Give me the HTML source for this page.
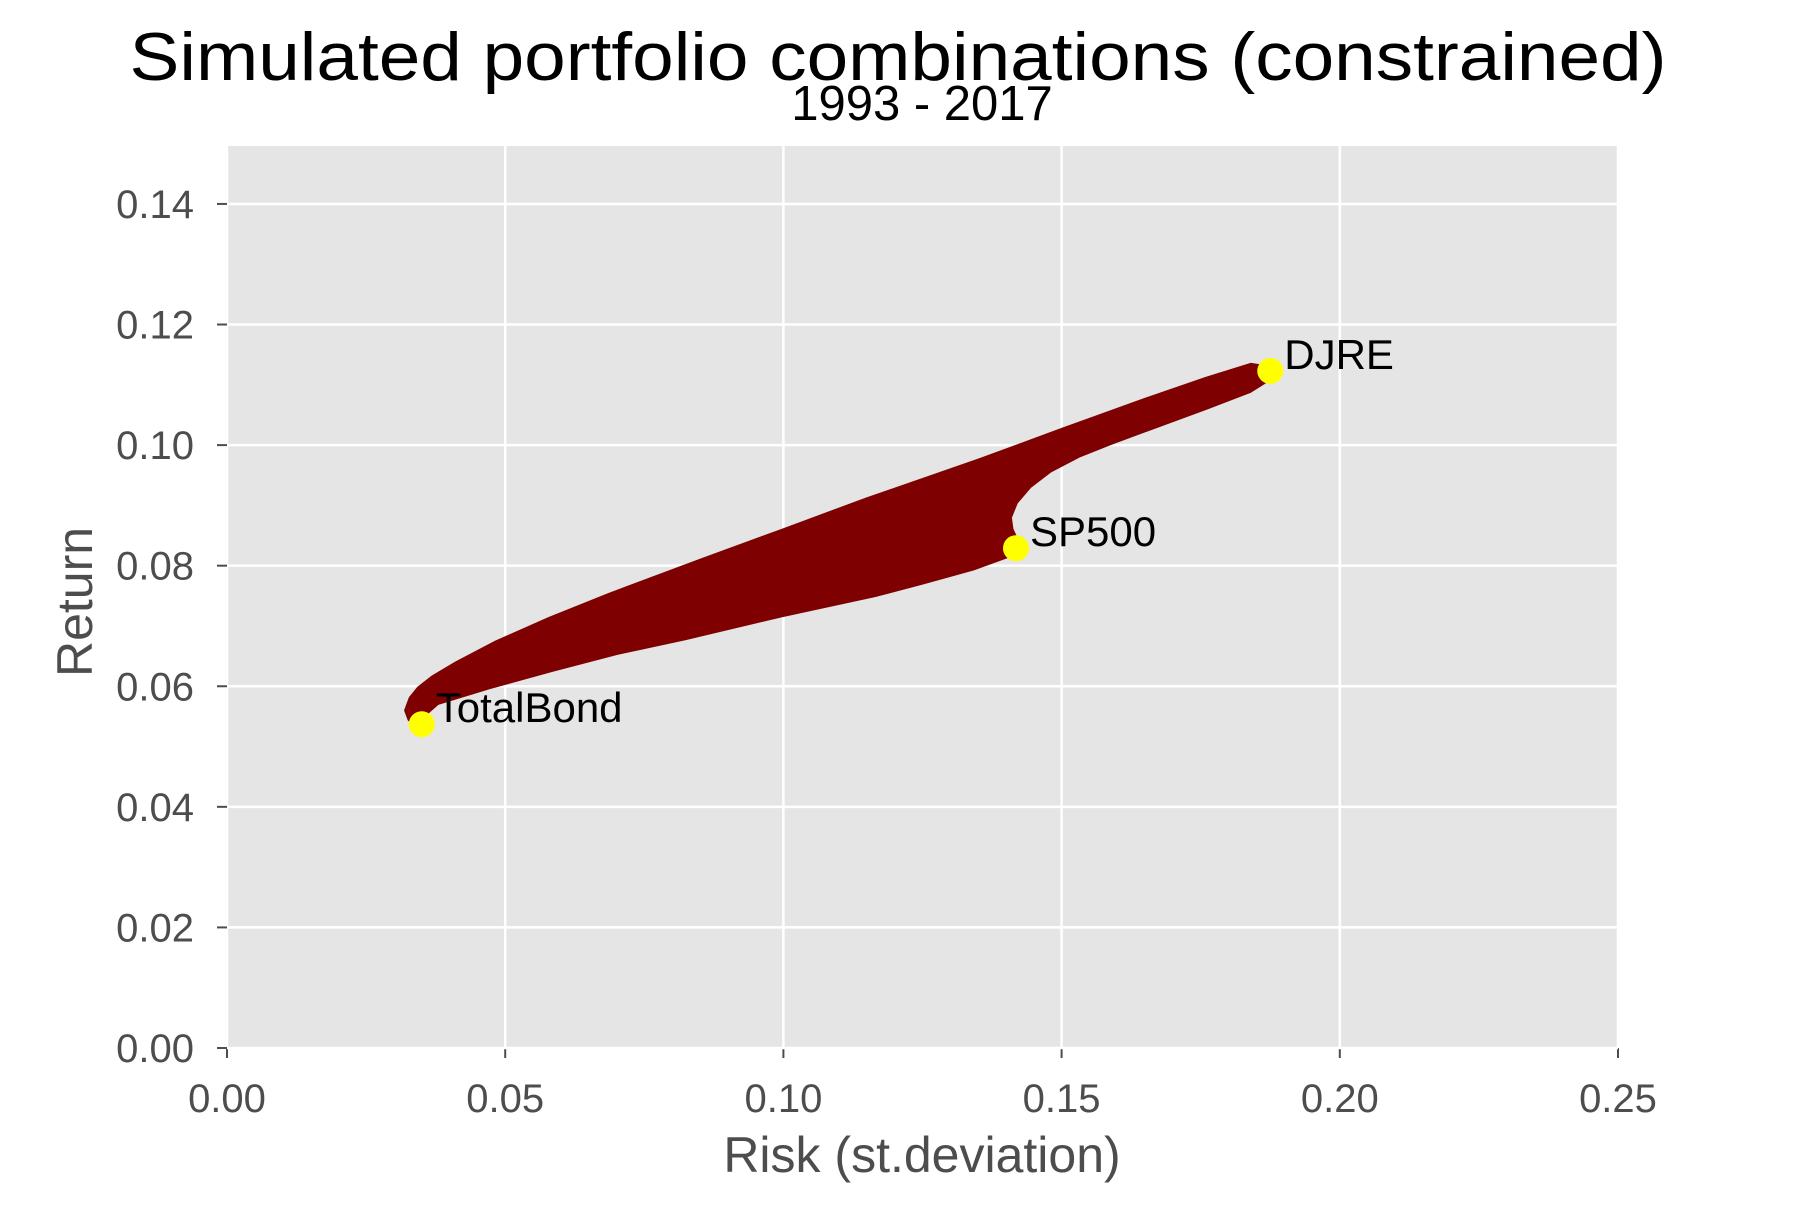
<!DOCTYPE html>
<html><head><meta charset="utf-8"><style>
html,body{margin:0;padding:0;background:#fff;}
svg text{font-family:"Liberation Sans",sans-serif;}
</style></head><body>
<svg id="chart" width="1800" height="1200" viewBox="0 0 1800 1200">
<rect x="0" y="0" width="1800" height="1200" fill="#fff"/>
<g id="g"></g>
</svg>
<script>
const xTicks = [0, 0.05, 0.10, 0.15, 0.20, 0.25];
const xTickLabels = ["0.00","0.05","0.10","0.15","0.20","0.25"];
const yTicks = [0, 0.02, 0.04, 0.06, 0.08, 0.10, 0.12, 0.14];
const yTickLabels = ["0.00","0.02","0.04","0.06","0.08","0.10","0.12","0.14"];
// upper edge of simulated cloud (left to right)
const upperRisk = [0.0322, 0.0330, 0.0345, 0.0370, 0.0410, 0.0482, 0.0580, 0.0688, 0.0850, 0.0998, 0.1150, 0.1353, 0.1500, 0.1650, 0.1760, 0.1840, 0.1862];
const upperRet  = [0.0560, 0.0580, 0.0597, 0.0615, 0.0637, 0.0672, 0.0712, 0.0752, 0.0808, 0.0858, 0.0910, 0.0975, 0.1025, 0.1075, 0.1110, 0.1133, 0.1130];
// lower edge (right to left), through notch near SP500
const lowerRisk = [0.1870, 0.1839, 0.1760, 0.1660, 0.1587, 0.1530, 0.1480, 0.1443, 0.1418, 0.1407, 0.1410, 0.1420, 0.1400, 0.1340, 0.1250, 0.1168, 0.0998, 0.0825, 0.0700, 0.0584, 0.0470, 0.0378, 0.0345, 0.0328];
const lowerRet  = [0.1108, 0.1090, 0.1062, 0.1028, 0.1003, 0.0982, 0.0958, 0.0932, 0.0905, 0.0880, 0.0860, 0.0840, 0.0815, 0.0795, 0.0772, 0.0752, 0.0718, 0.0680, 0.0655, 0.0627, 0.0598, 0.0572, 0.0545, 0.0545];
const assetNames = ["TotalBond","SP500","DJRE"];
const assetRisk = [0.0350, 0.1418, 0.1875];
const assetRet  = [0.0537, 0.0829, 0.1123];

const L=227,R=1618,T=146,B=1048;
const X=v=>L+(v/0.25)*(R-L);
const Y=v=>B-v*6029;
const NS='http://www.w3.org/2000/svg';
const g=document.getElementById('g');
function mk(tag,attrs,parent){const e=document.createElementNS(NS,tag);for(const k in attrs)e.setAttribute(k,attrs[k]);(parent||g).appendChild(e);return e;}

const panel=mk('rect',{x:L,y:T,width:R-L,height:B-T,fill:'#e5e5e5'});



xTicks.forEach((v,i)=>{
  const gl=mk('line',{x1:X(v),x2:X(v),y1:T,y2:B,stroke:'#fff','stroke-width':2.5});
  
  
  const tk=mk('line',{x1:X(v),x2:X(v),y1:B,y2:B+10,stroke:'#4d4d4d','stroke-width':2});
  
  
  const t=mk('text',{x:X(v),y:1112,'text-anchor':'middle','font-size':40,fill:'#4d4d4d'});
  t.textContent=xTickLabels[i];
  
  
});
yTicks.forEach((v,i)=>{
  const gl=mk('line',{x1:L,x2:R,y1:Y(v),y2:Y(v),stroke:'#fff','stroke-width':2.5});
  
  
  const tk=mk('line',{x1:L-10,x2:L,y1:Y(v),y2:Y(v),stroke:'#4d4d4d','stroke-width':2});
  
  
  const t=mk('text',{x:194,y:Y(v)+14,'text-anchor':'end','font-size':40,fill:'#4d4d4d'});
  t.textContent=yTickLabels[i];
  
  
});

let pts=[];
upperRisk.forEach((v,i)=>pts.push(X(v)+','+Y(upperRet[i])));
lowerRisk.forEach((v,i)=>pts.push(X(v)+','+Y(lowerRet[i])));
const cloud=mk('polygon',{points:pts.join(' '),fill:'#7f0000',stroke:'#7f0000','stroke-width':4,'stroke-linejoin':'round'});



assetNames.forEach((n,i)=>{
  const c=mk('circle',{cx:X(assetRisk[i]),cy:Y(assetRet[i]),r:13,fill:'#ffff00'});
  
  
  const t=mk('text',{x:X(assetRisk[i])+14,y:Y(assetRet[i])-2,'font-size':42,fill:'#000'});
  t.textContent=n;
  
  
});

const title=mk('text',{x:898,y:80,'text-anchor':'middle','font-size':68,fill:'#000',textLength:1537,lengthAdjust:'spacingAndGlyphs'});
title.textContent='Simulated portfolio combinations (constrained)';


const sub=mk('text',{x:922,y:120,'text-anchor':'middle','font-size':49,fill:'#000'});
sub.textContent='1993 - 2017';


const xt=mk('text',{x:922,y:1172,'text-anchor':'middle','font-size':50,fill:'#4d4d4d'});
xt.textContent='Risk (st.deviation)';


const yt=mk('text',{x:0,y:0,'text-anchor':'middle','font-size':50,fill:'#4d4d4d',transform:'translate(92,602) rotate(-90)'});
yt.textContent='Return';


</script>
</body></html>
